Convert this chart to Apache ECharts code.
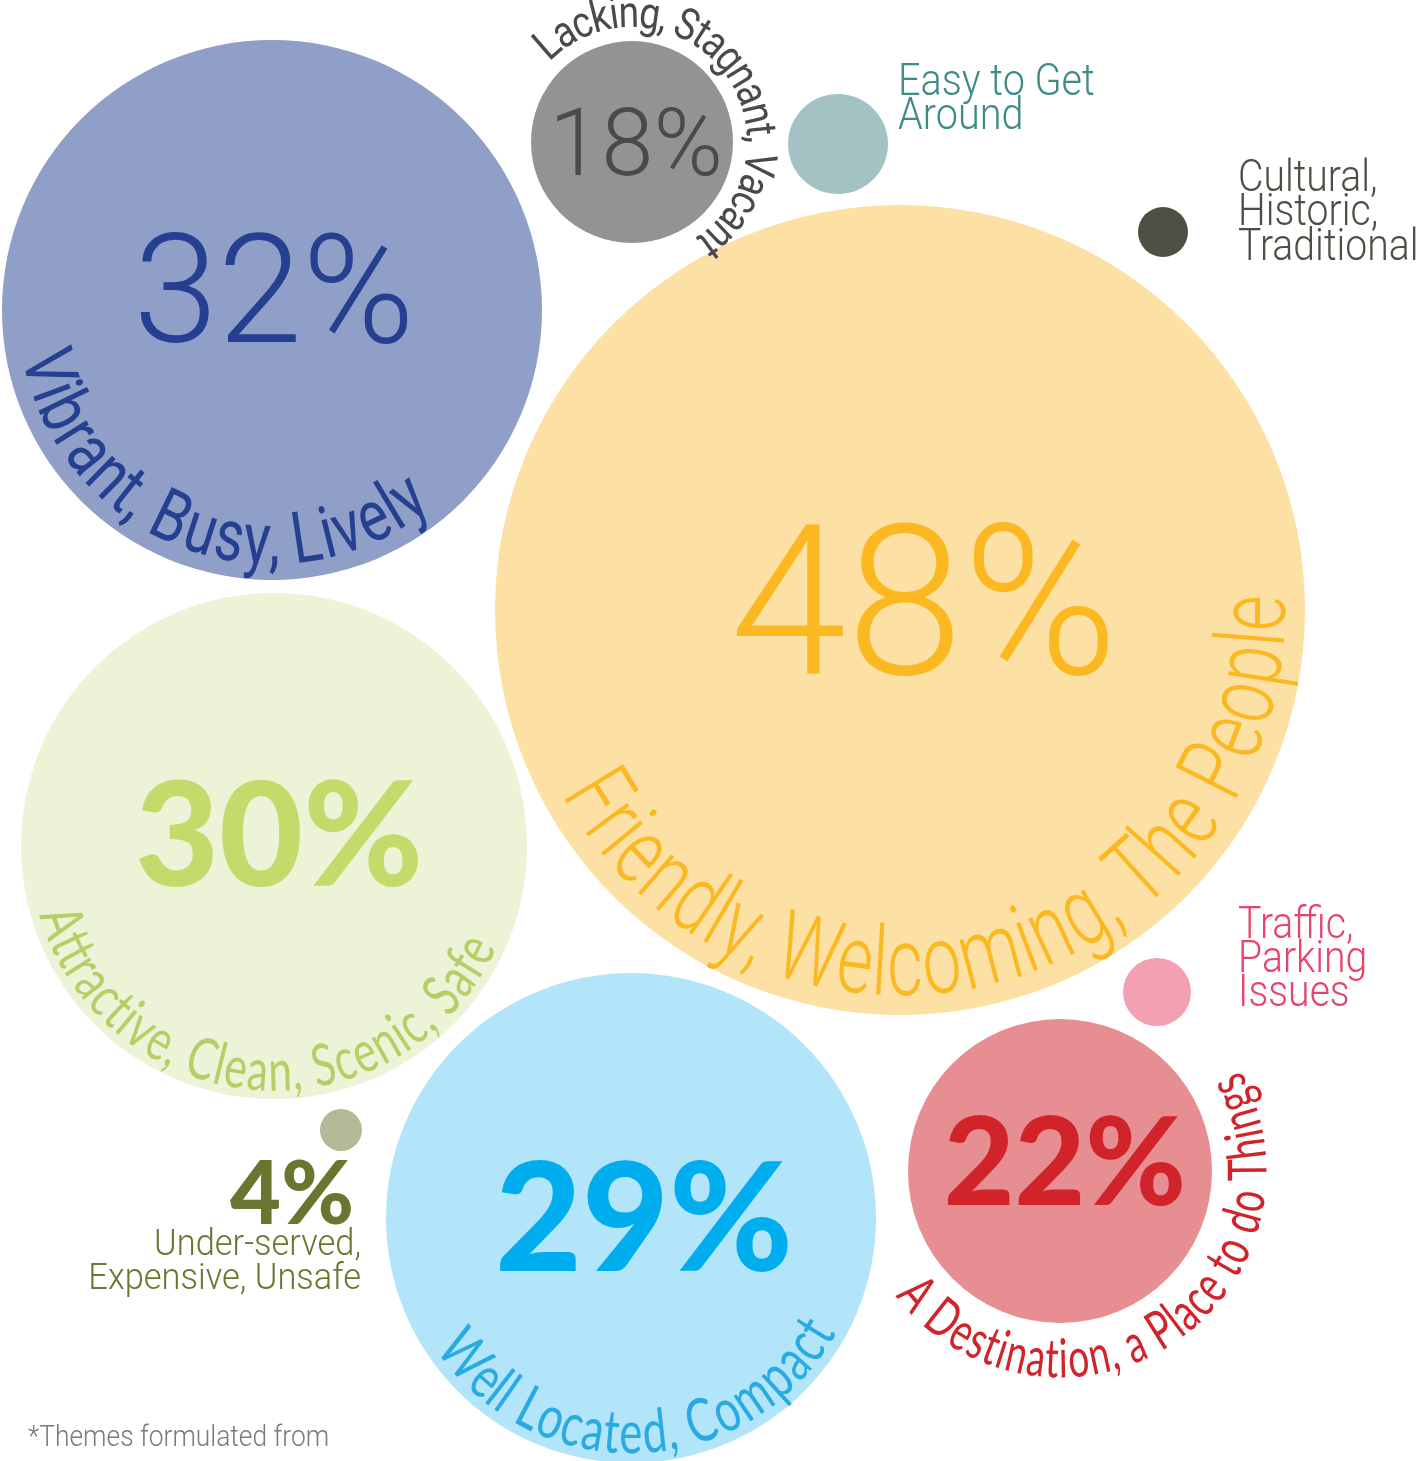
<!DOCTYPE html>
<html><head><meta charset="utf-8">
<script src="https://cdn.jsdelivr.net/npm/echarts@6/dist/echarts.min.js"></script>
<style>html,body{margin:0;padding:0;background:#fff}#c{width:1420px;height:1461px}</style>
</head><body><div id="c"></div>
<script>
// ---------- data ----------
const themes = [
  'Vibrant, Busy, Lively',
  'Lacking, Stagnant, Vacant',
  'Easy to Get Around',
  'Cultural, Historic, Traditional',
  'Friendly, Welcoming, The People',
  'Attractive, Clean, Scenic, Safe',
  'Traffic, Parking Issues',
  'A Destination, a Place to do Things',
  'Under-served, Expensive, Unsafe',
  'Well Located, Compact'
];
const shares = [32, 18, null, null, 48, 30, null, 22, 4, 29];
const footnote = '*Themes formulated from';

// ---------- layout & style (chart units = px on hidden axes) ----------
const bubbleLayout = [
  [272, 310, 270], [632, 142, 101], [838, 144, 50], [1163, 232, 25], [900, 610, 405],
  [274, 846, 253], [1157, 992, 34], [1060, 1171, 152], [341, 1130, 21], [631, 1218, 245]
];
const bubbleFill = ['#909fc7', '#939393', '#a2c2c3', '#4f4f45', '#fde0a3',
  '#ecf3d6', '#f4a0b3', '#e68e91', '#b3b996', '#b2e5f9'];

const pctStyle = {
  0: {x: 274, y: 304, size: 152, weight: 300, family: 'Roboto', color: '#253f91'},
  1: {x: 636, y: 151, size: 94, weight: 300, family: 'Roboto', color: '#4a4a4a'},
  4: {x: 924, y: 621, size: 210, weight: 300, family: 'Roboto', color: '#fbb820'},
  5: {x: 279, y: 839, size: 145, weight: 900, family: 'Lato', color: '#c4da6b'},
  9: {x: 644, y: 1223, size: 150, weight: 900, family: 'Lato', color: '#00aeef'},
  7: {x: 1065, y: 1166, size: 122, weight: 900, family: 'Lato', color: '#d1232a'},
  8: {x: 292, y: 1196, size: 88, weight: 900, family: 'Lato', color: '#6b7530'}
};

const arcStyle = {
  0: {r: 236, a0: 165.5, a1: 54, size: 72, weight: 400, family: 'Roboto', color: '#253f91', out: false},
  1: {r: 126, a0: -131, a1: 54, size: 44, weight: 400, family: 'Roboto', color: '#4a4a4a', out: true},
  4: {r: 361, a0: 148.5, a1: 0.5, size: 96, weight: 300, family: 'Roboto', color: '#fbb820', out: false},
  5: {r: 226, a0: 160.2, a1: 27.2, size: 58, weight: 400, family: 'Lato', color: '#b5cf66', out: false},
  9: {r: 216, a0: 140.6, a1: 31.2, size: 60, weight: 400, family: 'Lato', color: '#29aae1', out: false},
  7: {r: 189, a0: 139.3, a1: -27.1, size: 54, weight: 400, family: 'Lato', color: '#d1232a', out: false}
};

const plainStyle = {
  2: {x: 898, y: 67, lines: [3, 1], size: 45, lh: 34, align: 'left', color: '#3d8a87', sx: 0.88},
  3: {x: 1238, y: 162, lines: [1, 1, 1], size: 45, lh: 34.5, align: 'left', color: '#4f4e45', sx: 0.87},
  6: {x: 1238, y: 910, lines: [1, 1, 1], size: 45, lh: 34, align: 'left', color: '#e8436b', sx: 0.87},
  8: {x: 361, y: 1229, lines: [1, 2], size: 37, lh: 34, align: 'right', color: '#6b7530', sx: 0.93}
};
const footStyle = {x: 28, y: 1424, size: 29, lh: 30, color: '#7a7a7a', sx: 0.91};

// ---------- helpers ----------
const mctx = document.createElement('canvas').getContext('2d');
function fontStr(s) { return s.weight + ' ' + s.size + 'px ' + s.family + ', "Noto Sans", sans-serif'; }

function arcChildren(center, rPx, text, spec) {
  const font = fontStr(spec);
  mctx.font = font;
  const chars = Array.from(text);
  const centers = chars.map((ch, i) => {
    const a = mctx.measureText(chars.slice(0, i).join('')).width;
    const b = mctx.measureText(chars.slice(0, i + 1).join('')).width;
    return (a + b) / 2;
  });
  const s0 = centers[0], s1 = centers[centers.length - 1];
  const span = (spec.a1 - spec.a0) * Math.PI / 180;
  const k = Math.abs(span) * rPx / (s1 - s0);
  const out = [];
  chars.forEach((ch, i) => {
    if (ch === ' ') return;
    const th = spec.a0 * Math.PI / 180 + (centers[i] - s0) / (s1 - s0) * span;
    const x = center[0] + rPx * Math.cos(th), y = center[1] + rPx * Math.sin(th);
    const rot = spec.out ? -(th + Math.PI / 2) : -(th - Math.PI / 2);
    out.push({type: 'text', x: x, y: y, rotation: rot, scaleX: k,
      style: {text: ch, font: font, fill: spec.color, align: 'center', verticalAlign: 'middle'}});
  });
  return out;
}

function wrapLines(text, counts) {
  const words = text.split(' ');
  const lines = []; let p = 0;
  counts.forEach(c => { lines.push(words.slice(p, p + c).join(' ')); p += c; });
  return lines.join('\n');
}

// ---------- series data ----------
const bubbleData = bubbleLayout.map((b, i) => ({name: themes[i], value: [b[0], b[1], b[2], i]}));
const pctData = Object.keys(pctStyle).map(k => {
  const i = +k, s = pctStyle[k];
  return {name: shares[i] + '%', value: [s.x, s.y, i]};
});
const arcData = Object.keys(arcStyle).map(k => {
  const i = +k, b = bubbleLayout[i];
  return {name: themes[i], value: [b[0], b[1], arcStyle[k].r, i]};
});
const plainData = Object.keys(plainStyle).map(k => {
  const i = +k, s = plainStyle[k];
  return {name: wrapLines(themes[i], s.lines), value: [s.x, s.y, i]};
});
plainData.push({name: footnote, value: [footStyle.x, footStyle.y, -1]});

const chart = echarts.init(document.getElementById('c'), null, {renderer: 'canvas'});
chart.setOption({
  animation: false,
  backgroundColor: '#ffffff',
  grid: {left: 0, right: 0, top: 0, bottom: 0},
  xAxis: {type: 'value', min: 0, max: 1420, show: false},
  yAxis: {type: 'value', min: 0, max: 1461, inverse: true, show: false},
  series: [
    {
      type: 'custom', name: 'bubbles', data: bubbleData,
      renderItem: (params, api) => {
        const c = api.coord([api.value(0), api.value(1)]);
        const s = api.size([api.value(2), api.value(2)]);
        return {type: 'circle', shape: {cx: c[0], cy: c[1], r: s[0]},
          style: {fill: bubbleFill[api.value(3)]}};
      }
    },
    {
      type: 'custom', name: 'arcLabels', data: arcData,
      renderItem: (params, api) => {
        const i = api.value(3);
        const c = api.coord([api.value(0), api.value(1)]);
        const r = api.size([api.value(2), api.value(2)])[0];
        return {type: 'group', children: arcChildren(c, r, themes[i], arcStyle[i])};
      }
    },
    {
      type: 'custom', name: 'percent', data: pctData,
      renderItem: (params, api) => {
        const i = api.value(2), s = pctStyle[i];
        const c = api.coord([api.value(0), api.value(1)]);
        return {type: 'text', x: c[0], y: c[1],
          style: {text: shares[i] + '%', font: fontStr(s), fill: s.color, align: 'center', verticalAlign: 'middle'}};
      }
    },
    {
      type: 'custom', name: 'plainLabels', data: plainData,
      renderItem: (params, api) => {
        const i = api.value(2);
        const s = i >= 0 ? plainStyle[i] : footStyle;
        const txt = plainData[params.dataIndex].name;
        const c = api.coord([api.value(0), api.value(1)]);
        return {type: 'text', x: c[0], y: c[1], scaleX: s.sx,
          style: {text: txt, font: '300 ' + s.size + 'px Roboto, "Noto Sans", sans-serif', fill: s.color,
            lineHeight: s.lh, align: s.align || 'left', verticalAlign: 'top'}};
      }
    }
  ]
});
</script>
</body></html>
